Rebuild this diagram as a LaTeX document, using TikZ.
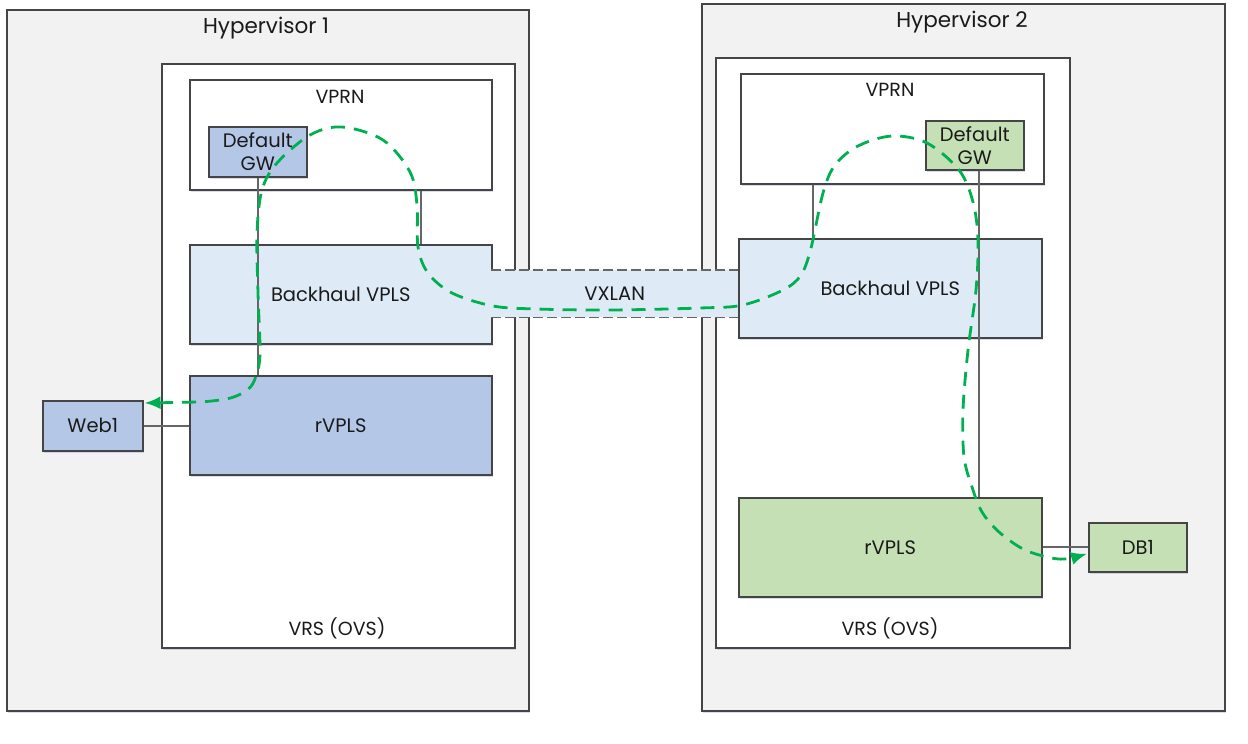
\documentclass[tikz,border=0pt]{standalone}
\usepackage{fontspec}
\setmainfont{Poppins}
\usetikzlibrary{arrows.meta,shadows}
\definecolor{hvfill}{HTML}{F2F2F2}
\definecolor{bord}{HTML}{454545}
\definecolor{connc}{HTML}{666666}
\definecolor{bhfill}{HTML}{DEEBF7}
\definecolor{bluefill}{HTML}{B4C7E7}
\definecolor{greenfill}{HTML}{C5E0B4}
\definecolor{flowc}{HTML}{00B050}
\definecolor{txt}{HTML}{1A1A1A}
\tikzset{
  box/.style={draw=bord, line width=1.5pt, rectangle, anchor=north west, inner sep=0pt,
    text=txt, font=\fontsize{19.5}{23}\selectfont,
    drop shadow={shadow xshift=1pt, shadow yshift=-2pt, fill=blue!40!gray, opacity=0.2}},
  lbl/.style={text=txt, inner sep=0pt, font=\fontsize{19}{23}\selectfont},
  ttl/.style={text=txt, inner sep=0pt, font=\fontsize{21.5}{25}\selectfont},
  conn/.style={draw=connc, line width=1.7pt},
  flow/.style={draw=flowc, line width=2.8pt, dash pattern=on 14pt off 9pt,
    {Latex[length=16pt,width=13pt]}-{Latex[length=16pt,width=13pt]}},
}
\begin{document}
\begin{tikzpicture}[x=1pt,y=-1pt]
\useasboundingbox[fill=white] (0,0) rectangle (1248,744);
% hypervisors
\node[box, fill=hvfill, minimum width=522pt, minimum height=701pt] (h1) at (6,9) {};
\node[box, fill=hvfill, minimum width=523pt, minimum height=707pt] (h2) at (701,3) {};
\node[ttl] (h1t) at (266,28) {Hypervisor 1};
\node[ttl] (h2t) at (962,22) {Hypervisor 2};
% VRS
\node[box, fill=white, minimum width=353pt, minimum height=584pt] (vrs1) at (161,63) {};
\node[box, fill=white, minimum width=354pt, minimum height=590pt] (vrs2) at (715,57) {};
\node[lbl] (vrs1t) at (337,628) {VRS (OVS)};
\node[lbl] (vrs2t) at (890,628) {VRS (OVS)};
% Hypervisor 1 content
\node[box, fill=white, minimum width=302pt, minimum height=110pt] (vprn1) at (189,79) {};
\node[lbl] (vprn1t) at (340,97) {VPRN};
\node[box, fill=bluefill, minimum width=98pt, minimum height=50pt, align=center] (gw1) at (208,126) {Default\\[0pt]GW};
\node[box, fill=bhfill, minimum width=302pt, minimum height=99pt] (bh1) at (189,244) {Backhaul VPLS};
\node[box, fill=bluefill, minimum width=302pt, minimum height=99pt] (rv1) at (189,375) {rVPLS};
\node[box, fill=bluefill, minimum width=100pt, minimum height=50pt] (web1) at (42,400) {Web1};
% Hypervisor 2 content
\node[box, fill=white, minimum width=303pt, minimum height=110pt] (vprn2) at (740,73) {};
\node[lbl] (vprn2t) at (890,90) {VPRN};
\node[box, fill=greenfill, minimum width=98pt, minimum height=49pt, align=center] (gw2) at (925,120) {Default\\[0pt]GW};
\node[box, fill=bhfill, minimum width=303pt, minimum height=99pt] (bh2) at (738,238) {Backhaul VPLS};
\node[box, fill=greenfill, minimum width=303pt, minimum height=99pt] (rv2) at (738,497) {rVPLS};
\node[box, fill=greenfill, minimum width=98pt, minimum height=49pt] (db1) at (1088,522) {DB1};
% VXLAN
\node[rectangle, anchor=north west, inner sep=0pt, fill=bhfill, minimum width=247pt, minimum height=47pt,
  text=txt, font=\fontsize{19.5}{23}\selectfont] (vx) at (491,270) {VXLAN};
\draw[draw=connc, line width=1.6pt, dash pattern=on 10pt off 4pt] (vx.north west) -- (vx.north east);
\draw[draw=connc, line width=1.6pt, dash pattern=on 10pt off 4pt] (vx.south west) -- (vx.south east);
% connectors
\draw[conn] (gw1.south) -- (gw1.south |- rv1.north);
\coordinate (c1) at ([xshift=80pt]vprn1.south);
\draw[conn] (c1) -- (c1 |- bh1.north);
\draw[conn] (web1.east) -- (rv1.west |- web1.east);
\coordinate (c2) at ([xshift=-79.5pt]vprn2.south);
\draw[conn] (c2) -- (c2 |- bh2.north);
\coordinate (c3) at ([xshift=4pt]gw2.south);
\draw[conn] (c3) -- (c3 |- rv2.north);
\draw[conn] (rv2.east) -- (db1.west);
% flow
\coordinate (fa) at ([xshift=1pt,yshift=-3pt]web1.north east);
\coordinate (fb) at ([xshift=-1pt,yshift=-6.5pt]db1.west);
\draw[flow] plot[smooth, tension=0.55] coordinates {(fa) (220,400) (247,390) (256,376) (260,353) (258,293) (257,233) (262,190) (277,163) (310,135) (342,127) (383,140) (410,172) (417,205) (418,247) (428,273) (452,293) (493,306) (537,309) (610,310) (700,308) (743,305) (783,290) (801,275) (811,248) (823,193) (835,165) (858,146) (892,136) (927,143) (959,170) (973,202) (978,240) (976,290) (968,350) (963,410) (964,457) (972,487) (982,512) (999,532) (1023,549) (1047,557) (1065,559) (fb)};
\end{tikzpicture}
\end{document}
